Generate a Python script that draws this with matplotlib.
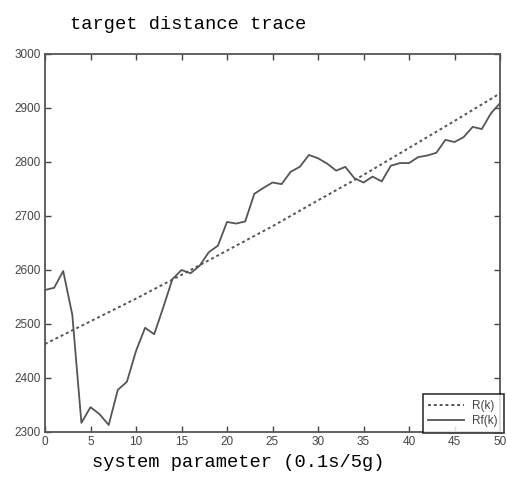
import matplotlib
matplotlib.use("Agg")
import matplotlib.pyplot as plt

# sample index (x axis)
k = list(range(51))

# measured trace Rf(k)
rf = [2563, 2567, 2598, 2517, 2317, 2346, 2333, 2313, 2378, 2393,
      2450, 2493, 2481, 2531, 2583, 2600, 2594, 2608, 2633, 2645,
      2689, 2686, 2690, 2741, 2752, 2762, 2759, 2782, 2791, 2813,
      2807, 2797, 2784, 2791, 2770, 2762, 2773, 2764, 2793, 2798,
      2798, 2809, 2812, 2817, 2841, 2837, 2846, 2865, 2861, 2890,
      2909]

# reference distance R(k), read every 5 samples
k_r = [0, 5, 10, 15, 20, 25, 30, 35, 40, 45, 50]
r = [2463, 2505, 2547, 2591, 2636, 2681, 2729, 2776, 2826, 2876, 2927]

xticks = [0, 5, 10, 15, 20, 25, 30, 35, 40, 45, 50]
yticks = [2300, 2400, 2500, 2600, 2700, 2800, 2900, 3000]

fig = plt.figure(figsize=(5.07, 4.79), dpi=100)
ax = fig.add_axes([45 / 507, 1 - 432 / 479, 455 / 507, 378 / 479])

line_col = "#555555"
ax.plot(k_r, r, color=line_col, linestyle=(0, (1.5, 1.5)), linewidth=1.4, label="R(k)")
ax.plot(k, rf, color=line_col, linewidth=1.3, label="Rf(k)")

ax.set_xlim(0, 50)
ax.set_ylim(2300, 3000)
ax.set_xticks(xticks)
ax.set_yticks(yticks)
ax.tick_params(direction="in", length=4, width=1, top=True, right=True,
               colors="#444444", labelsize=8.5, pad=3)
for lab in ax.get_xticklabels() + ax.get_yticklabels():
    lab.set_family("Liberation Sans")
for sp in ax.spines.values():
    sp.set_color("#555555")
    sp.set_linewidth(1.3)

leg = ax.legend(loc="lower right", bbox_to_anchor=(1.008, -0.003), fancybox=False,
                edgecolor="black", handlelength=3.0, borderpad=0.5,
                labelspacing=0.3, handletextpad=0.7, borderaxespad=0.0,
                prop={"family": "Liberation Sans", "size": 8.5})
leg.get_frame().set_linewidth(1.2)
for t in leg.get_texts():
    t.set_color("#444444")

fig.text(70 / 507, 1 - 29 / 479, "target distance trace", family="Liberation Mono",
         fontsize=13.5, ha="left", va="baseline", color="black")
fig.text(92 / 507, 1 - 467 / 479, "system parameter (0.1s/5g)", family="Liberation Mono",
         fontsize=13.5, ha="left", va="baseline", color="black")

fig.savefig("out.png", dpi=100)
